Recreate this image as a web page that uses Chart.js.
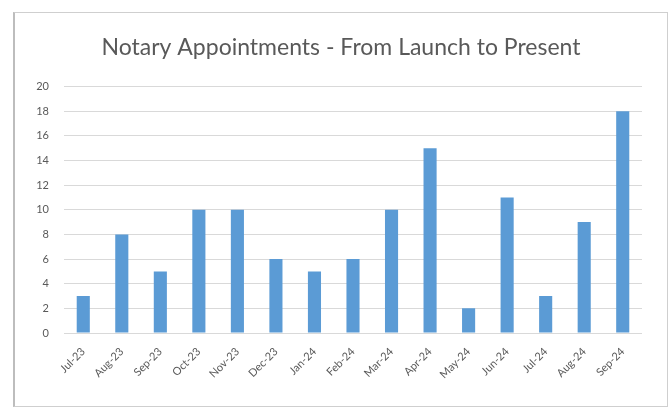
<!DOCTYPE html>
<html>
<head>
<meta charset="utf-8">
<script src="https://cdn.jsdelivr.net/npm/chart.js@4/dist/chart.umd.min.js"></script>
<style>
  body { margin: 0; background: #fff; }
  #box {
    position: absolute; left: 13px; top: 12px;
    width: 655px; height: 395px;
    border: 1px solid #cfcfcf; border-left: 2px solid #bdbdbd; box-sizing: border-box;
  }
  canvas { display: block; }
</style>
</head>
<body>
<div id="box"><canvas id="chart" width="652" height="393"></canvas></div>
<script>
// months since launch
var months = ['Jul-23', 'Aug-23', 'Sep-23', 'Oct-23', 'Nov-23', 'Dec-23', 'Jan-24', 'Feb-24',
	'Mar-24', 'Apr-24', 'May-24', 'Jun-24', 'Jul-24', 'Aug-24', 'Sep-24'];
var appointments = [3, 8, 5, 10, 10, 6, 5, 6, 10, 15, 2, 11, 3, 9, 18];
var yMax = 20;
var yStep = 2;

var textColor = '#595959';
var font = 'Lato, "Open Sans", sans-serif';

var ctx = document.getElementById('chart').getContext('2d');
var chart = new Chart(ctx, {
	type: 'bar',
	data: {
		labels: months,
		datasets: [{
			label: 'Appointments',
			data: appointments,
			backgroundColor: '#5b9bd5',
			borderWidth: 0,
			categoryPercentage: 1,
			barPercentage: 0.34
		}]
	},
	options: {
		responsive: false,
		animation: false,
		layout: { padding: { top: 9, right: 0, bottom: 13, left: 0 } },
		plugins: {
			legend: { display: false },
			tooltip: { enabled: false },
			title: {
				display: true,
				text: 'Notary Appointments - From Launch to Present',
				color: textColor,
				font: { family: font, size: 23, weight: 'normal' },
				padding: { top: 12, bottom: 25 }
			}
		},
		scales: {
			x: {
				grid: { display: false },
				border: { display: false },
				ticks: {
					color: textColor,
					font: { family: font, size: 11 },
					minRotation: 45,
					maxRotation: 45,
					padding: 4
				},
				afterFit: function(axis) { axis.height = 60; }
			},
			y: {
				min: 0,
				max: yMax,
				grid: { color: '#d9d9d9', drawTicks: false },
				border: { display: false },
				ticks: {
					stepSize: yStep,
					color: textColor,
					font: { family: font, size: 11 },
					padding: 15
				},
				afterFit: function(axis) { axis.width = 49; }
			},
			// empty right margin so the title centres on the whole box
			spacer: {
				position: 'right',
				grid: { display: false },
				border: { display: false },
				ticks: { display: false },
				afterFit: function(axis) { axis.width = 25; }
			}
		}
	}
});
</script>
</body>
</html>
